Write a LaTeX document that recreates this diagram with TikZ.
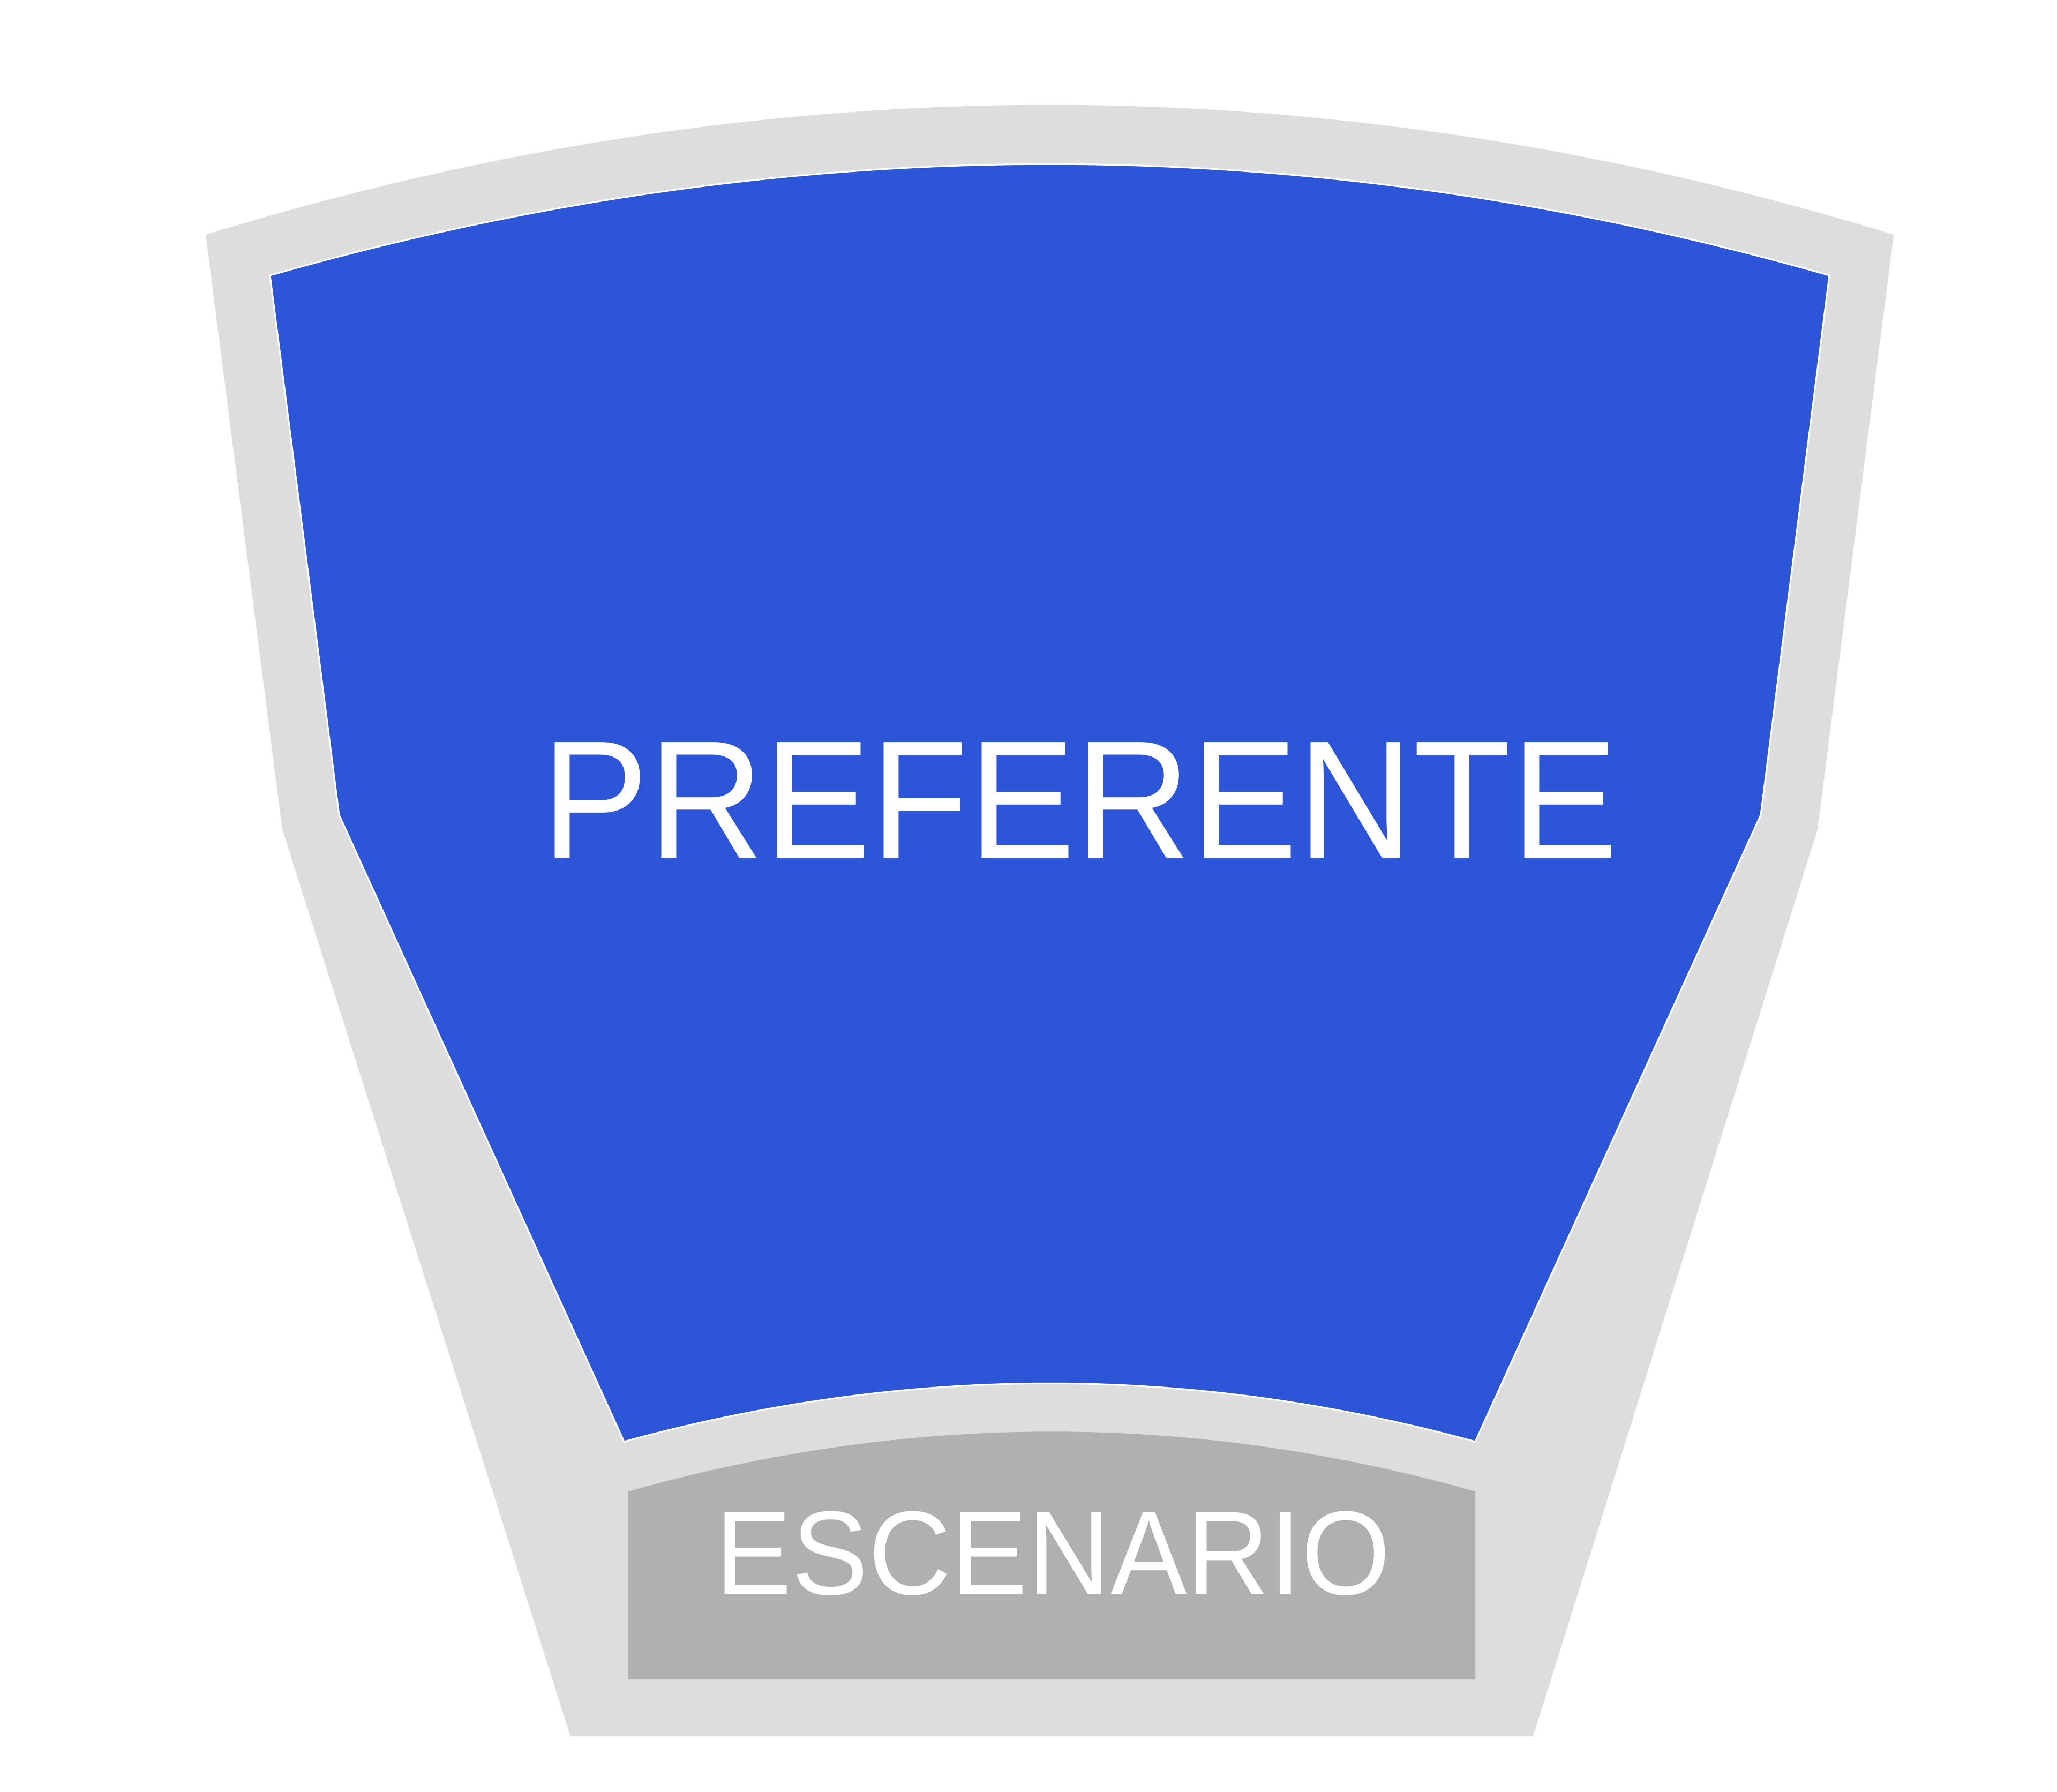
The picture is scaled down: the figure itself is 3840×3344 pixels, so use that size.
\documentclass[tikz,border=0pt]{standalone}
\usepackage{fontspec}
\usepackage{graphicx}
\setmainfont{Liberation Sans}
\definecolor{outerg}{HTML}{DDDDDD}
\definecolor{seatblue}{HTML}{2C55D8}
\definecolor{stageg}{HTML}{B0B0B0}
\tikzset{
  lbl/.style={text=white, inner sep=0pt},
}
\begin{document}
\begin{tikzpicture}[x=0.01cm,y=-0.01cm]
\useasboundingbox (0,0) rectangle (3840,3344);
% outer light gray frame
\fill[outerg] (384,438) .. controls (1435,115) and (2484,115) .. (3535,438)
  -- (3393,1548) -- (2862,3241) -- (1065,3241) -- (527,1548) -- cycle;
% blue seating area
\fill[seatblue, draw=white, line width=0.03cm] (504,514) .. controls (1475,237) and (2444,237) .. (3415,514)
  -- (3287,1521) -- (2754,2691) .. controls (2224,2546) and (1695,2546) .. (1165,2691)
  -- (633,1521) -- cycle;
% stage
\fill[stageg] (1173,2784) .. controls (1700,2635) and (2227,2635) .. (2754,2784)
  -- (2754,3135) -- (1173,3135) -- cycle;
\node[lbl, font=\fontsize{85.4}{90}\selectfont] (pref) at (2016,1494) {\scalebox{0.995}[1.045]{PREFERENTE}};
\node[lbl, font=\fontsize{61.5}{66}\selectfont] (esc) at (1966,2900) {\scalebox{0.99}[1.03]{ESCENARIO}};
\end{tikzpicture}
\end{document}
